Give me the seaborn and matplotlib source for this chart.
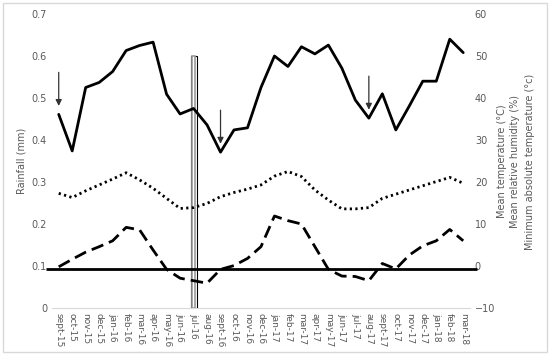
import numpy as np
import pandas as pd
import matplotlib
matplotlib.use("Agg")
import matplotlib.pyplot as plt
import seaborn as sns
from matplotlib.patches import Rectangle

# data
months = ['sept-15', 'oct-15', 'nov-15', 'dec-15', 'jan-16', 'feb-16', 'mar-16', 'apr-16',
          'may-16', 'jun-16', 'jul-16', 'aug-16', 'sept-16', 'oct-16', 'nov-16', 'dec-16',
          'jan-17', 'feb-17', 'mar-17', 'apr-17', 'may-17', 'jun-17', 'jul-17', 'aug-17',
          'sept-17', 'oct-17', 'nov-17', 'dec-17', 'jan-18', 'feb-18', 'mar-18']
rainfall = [0, 0, 0, 0, 0, 0, 0, 0, 0, 0, 0.6, 0, 0, 0, 0, 0,
            0, 0, 0, 0, 0, 0, 0, 0, 0, 0, 0, 0, 0, 0, 0]
humidity = [36.1, 27.4, 42.5, 43.7, 46.3, 51.3, 52.5, 53.3, 40.9, 36.2, 37.5, 33.6,
            27.1, 32.4, 32.9, 42.5, 50.0, 47.5, 52.2, 50.5, 52.6, 47.1, 39.5, 35.2,
            41.0, 32.4, 38.1, 44.0, 44.0, 54.0, 50.8]
mean_temp = [17.3, 16.3, 17.9, 19.3, 20.7, 22.2, 20.5, 18.5, 16.1, 13.7, 13.9, 14.9,
             16.5, 17.5, 18.3, 19.3, 21.4, 22.5, 21.3, 18.1, 15.7, 13.6, 13.6, 13.9,
             16.1, 17.1, 18.1, 19.1, 20.1, 21.1, 19.7]
min_temp = [-0.2, 1.6, 3.3, 4.6, 6.0, 9.2, 8.6, 3.8, -0.8, -2.9, -3.5, -4.1,
            -0.8, 0.1, 1.8, 4.6, 11.9, 10.8, 10.0, 4.6, -0.8, -2.4, -2.5, -3.5,
            0.6, -0.7, 2.6, 4.8, 6.0, 8.7, 6.0]
arrow_months = ['sept-15', 'sept-16', 'aug-17']

df = pd.DataFrame({'month': months, 'rain': rainfall, 'hum': humidity,
                   'temp': mean_temp, 'tmin': min_temp})
df['pos'] = np.arange(len(months))

grey = '#595959'
sns.set_style("white")
plt.rcParams['font.family'] = ['DejaVu Sans']

fig = plt.figure(figsize=(5.5, 3.55), dpi=100)
ax = fig.add_axes([0.0945, 0.1324, 0.76, 0.8282])

# rainfall bar (double outline)
bars = df[df['rain'] > 0]
sns.barplot(data=bars, x='month', y='rain', order=months, width=0.45,
            color='white', edgecolor='black', linewidth=0.8, ax=ax)
sns.barplot(data=bars, x='month', y='rain', order=months, width=0.28,
            color='white', edgecolor='#9a9a9a', linewidth=1.2, ax=ax)
ax.set_ylim(0, 0.7)
ax.set_xlim(-0.5, len(months) - 0.5)
ax.set_ylabel('Rainfall (mm)', color=grey, fontsize=7)
ax.set_xlabel('')
ax.tick_params(axis='y', colors=grey, labelsize=7, length=0)
ax.tick_params(axis='x', colors=grey, labelsize=6.5, length=0, rotation=-90)
ax.set_yticks(np.arange(0, 0.71, 0.1))
ax.set_yticklabels(['0', '0.1', '0.2', '0.3', '0.4', '0.5', '0.6', '0.7'])
for s in ['top', 'left', 'right']:
    ax.spines[s].set_visible(False)
ax.spines['bottom'].set_color('#d9d9d9')

ax2 = ax.twinx()
sns.lineplot(data=df, x='pos', y='hum', color='black', lw=2, ax=ax2)
sns.lineplot(data=df, x='pos', y='temp', color='black', lw=2,
             linestyle=(0, (0.8, 1.2)), ax=ax2)
l3 = sns.lineplot(data=df, x='pos', y='tmin', color='black', lw=2, ax=ax2)
ax2.lines[-1].set_dashes((4.5, 2.2))
ax2.hlines(-0.65, -0.95, len(months) + 0.02, color='black', lw=2, clip_on=False)
ax2.set_ylim(-10, 60)
ax2.set_xlim(-0.5, len(months) - 0.5)
ax2.set_yticks(np.arange(-10, 61, 10))
ax2.tick_params(axis='y', colors=grey, labelsize=7, length=0)
ax2.set_ylabel('')
ax2.set_xlabel('')
for s in ax2.spines.values():
    s.set_visible(False)

# arrows
for m in arrow_months:
    i = months.index(m)
    v = humidity[i]
    ax2.annotate('', xy=(i, v + 2.0), xytext=(i, v + 10.0),
                 arrowprops=dict(arrowstyle='-|>', color='#333333', lw=0.9,
                                 mutation_scale=9, shrinkA=0, shrinkB=0))

# right axis titles
for xf, txt in [(0.913, 'Mean temperature (°C)'),
                (0.937, 'Mean relative humidity (%)'),
                (0.963, 'Minimum absolute temperature (°c)')]:
    fig.text(xf, 0.545, txt, rotation=90, ha='center', va='center', color=grey, fontsize=7)

fig.patches.append(Rectangle((0.006, 0.008), 0.988, 0.984, transform=fig.transFigure,
                             fill=False, ec='#d9d9d9', lw=1))

fig.savefig('out.png', dpi=100)
